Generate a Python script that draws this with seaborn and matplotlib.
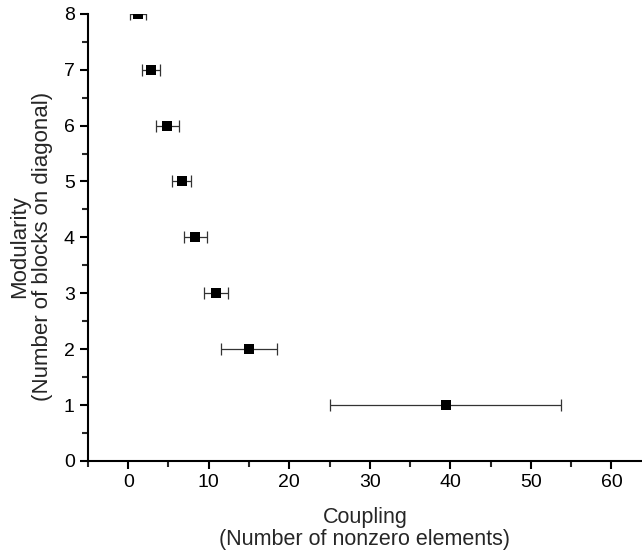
import numpy as np
import pandas as pd
import matplotlib
matplotlib.use("Agg")
import matplotlib.pyplot as plt
import seaborn as sns
from matplotlib.ticker import MultipleLocator

# -----------------------------
# Data
# -----------------------------
modularity = [1, 2, 3, 4, 5, 6, 7, 8]
coupling = [39.4, 15.0, 10.9, 8.35, 6.65, 4.85, 2.8, 1.2]
coupling_err = [14.3, 3.5, 1.45, 1.45, 1.2, 1.45, 1.15, 1.0]

df = pd.DataFrame({"Coupling": coupling, "Modularity": modularity, "err": coupling_err})

# -----------------------------
# Style
# -----------------------------
sns.set_style("ticks")
plt.rcParams["font.family"] = ["Liberation Sans", "DejaVu Sans"]

fig = plt.figure(figsize=(6.42, 5.52), dpi=100)
ax = fig.add_axes([0.137, 0.165, 0.863, 0.81])

ax.errorbar(df["Coupling"], df["Modularity"], xerr=df["err"], fmt="none",
            ecolor="#333333", elinewidth=0.9, capsize=4, capthick=0.9, zorder=2)
sns.scatterplot(data=df, x="Coupling", y="Modularity", marker="s", s=60,
                color="black", edgecolor="black", linewidth=0, ax=ax, zorder=3)

ax.set_xlim(-5, 63.8)
ax.set_ylim(0, 8)
ax.xaxis.set_major_locator(MultipleLocator(10))
ax.xaxis.set_minor_locator(MultipleLocator(5))
ax.yaxis.set_major_locator(MultipleLocator(1))
ax.yaxis.set_minor_locator(MultipleLocator(0.5))

ax.tick_params(axis="both", which="major", direction="out", length=6, width=1.5,
               labelsize=14, colors="black")
ax.tick_params(axis="both", which="minor", direction="out", length=4, width=1.5)

for side in ["top", "right"]:
    ax.spines[side].set_visible(False)
for side in ["left", "bottom"]:
    ax.spines[side].set_linewidth(1.5)
    ax.spines[side].set_color("black")

ax.set_xlabel("Coupling\n(Number of nonzero elements)", fontsize=15.5, linespacing=1.1)
ax.set_ylabel("Modularity\n(Number of blocks on diagonal)", fontsize=16, linespacing=1.1)
ax.xaxis.set_label_coords(0.5, -0.102)
ax.yaxis.set_label_coords(-0.063, 0.48)

plt.savefig("out.png", dpi=100)
plt.close()
